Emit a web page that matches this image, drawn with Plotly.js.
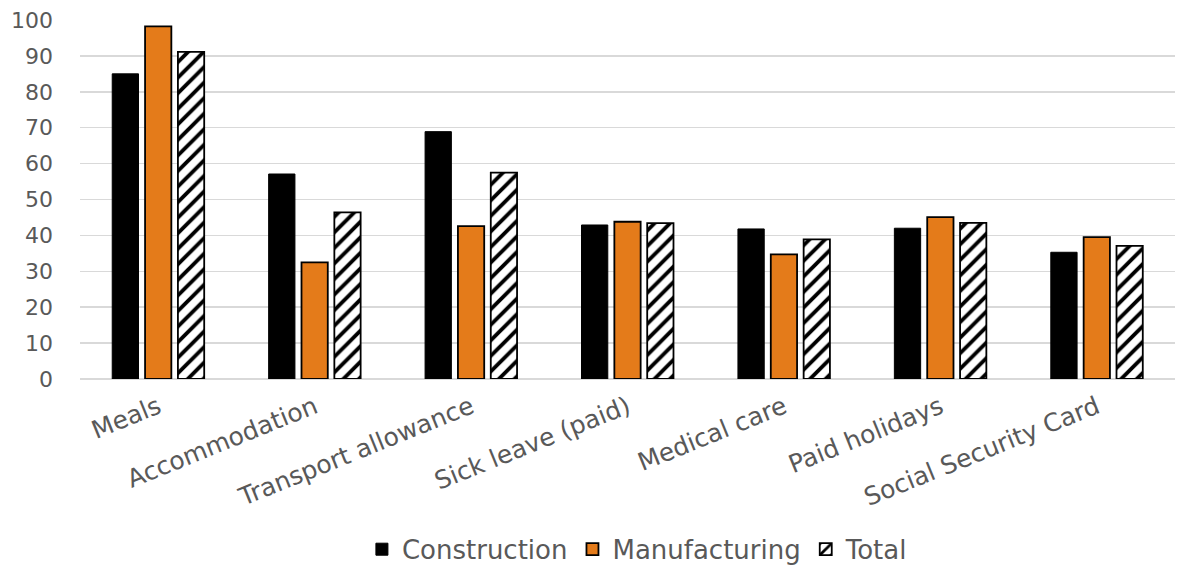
<!DOCTYPE html>
<html>
<head>
<meta charset="utf-8">
<script src="https://cdn.plot.ly/plotly-3.0.1.min.js"></script>
<style>html,body{margin:0;padding:0;background:#fff;}#chart{width:1187px;height:571px;}</style>
</head>
<body>
<div id="chart"></div>
<script>
const categories = ["Meals", "Accommodation", "Transport allowance", "Sick leave (paid)", "Medical care", "Paid holidays", "Social Security Card"];
const construction = [85.0, 57.1, 68.9, 42.9, 41.8, 42.0, 35.3];
const manufacturing = [98.2, 32.5, 42.6, 43.8, 34.7, 45.1, 39.5];
const total = [91.1, 46.4, 57.5, 43.4, 38.9, 43.5, 37.1];
const yTicks = [0, 10, 20, 30, 40, 50, 60, 70, 80, 90, 100];

const traces = [
  {type: 'bar', name: 'Construction', x: categories, y: construction,
   marker: {color: '#000000', line: {color: '#000000', width: 1}}},
  {type: 'bar', name: 'Manufacturing', x: categories, y: manufacturing,
   marker: {color: '#E47B1A', line: {color: '#000000', width: 1.8}}},
  {type: 'bar', name: 'Total', x: categories, y: total,
   marker: {color: '#ffffff', line: {color: '#000000', width: 1.8},
            pattern: {shape: '/', fgcolor: '#000000', bgcolor: '#ffffff', size: 11, solidity: 0.35}}}
];

const layout = {
  width: 1187, height: 571,
  margin: {l: 80, r: 12, t: 20, b: 192},
  paper_bgcolor: '#ffffff', plot_bgcolor: '#ffffff',
  font: {family: '"DejaVu Sans", sans-serif', color: '#595959'},
  barmode: 'group', bargap: 0.37, bargroupgap: 0.2,
  showlegend: true,
  legend: {orientation: 'h', xref: 'container', yref: 'container', x: 0.537, xanchor: 'center',
           y: 0.038, yanchor: 'middle',
           font: {size: 26, color: '#595959'}, itemwidth: 30, traceorder: 'normal'},
  xaxis: {type: 'category', tickangle: -22, tickfont: {size: 25, color: '#595959'},
          showgrid: false, showline: false, ticks: '', automargin: false, ticklabelstandoff: 8},
  yaxis: {range: [0, 100], tickvals: yTicks, ticktext: yTicks.map(String),
          tickfont: {size: 22, color: '#595959'}, gridcolor: '#d9d9d9', gridwidth: 1.5,
          zeroline: true, zerolinecolor: '#d9d9d9', zerolinewidth: 1.5, showline: false, ticks: '',
          automargin: false, ticklabelstandoff: 26}
};

Plotly.newPlot('chart', traces, layout, {displayModeBar: false, staticPlot: true});
</script>
</body>
</html>
